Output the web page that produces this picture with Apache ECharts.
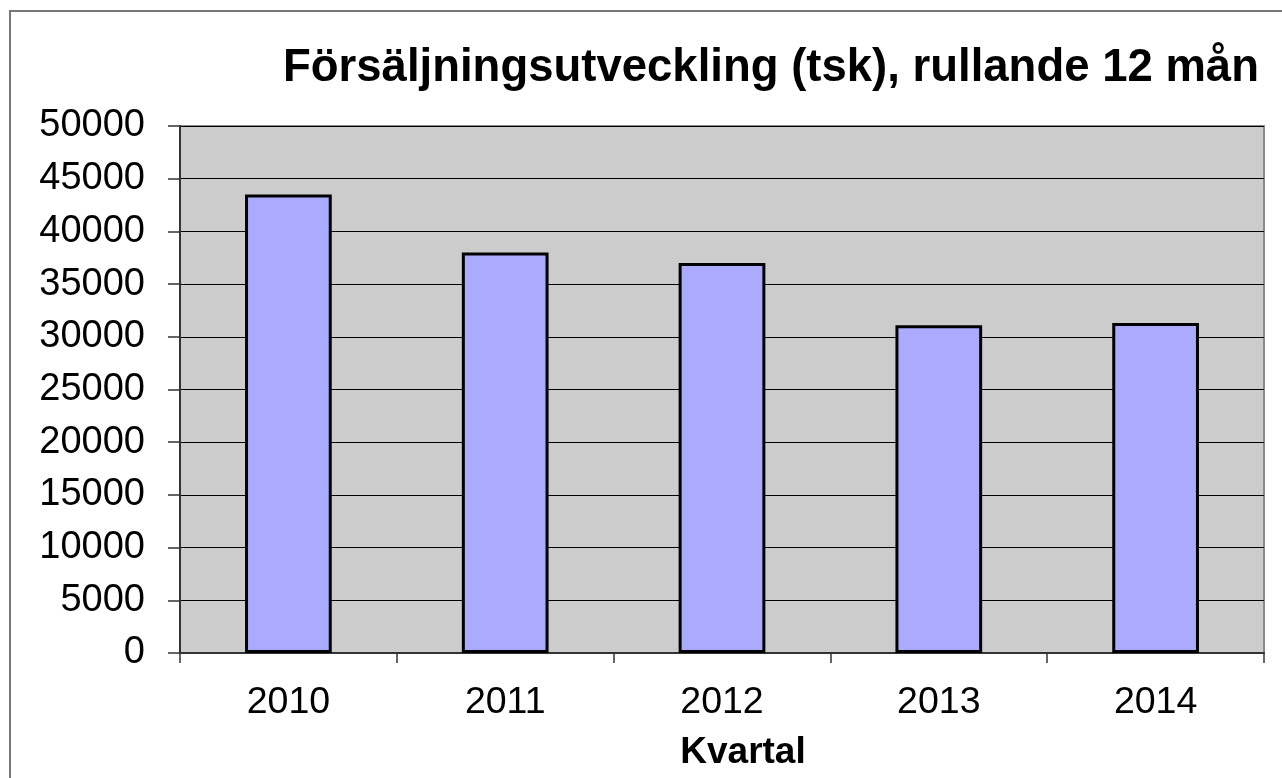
<!DOCTYPE html>
<html>
<head>
<meta charset="utf-8">
<script src="https://cdn.jsdelivr.net/npm/echarts@6/dist/echarts.min.js"></script>
<style>
  html, body { margin: 0; padding: 0; background: #fff; }
  #chart { width: 1282px; height: 778px; }
</style>
</head>
<body>
<div id="chart"></div>
<script>
const categories = ['2010', '2011', '2012', '2013', '2014'];
const sales = [43500, 38000, 37000, 31100, 31300];
const titleText = 'Försäljningsutveckling (tsk), rullande 12 mån';
const xAxisName = 'Kvartal';

const font = '"Liberation Sans", Arial, sans-serif';
const chart = echarts.init(document.getElementById('chart'));

chart.setOption({
  animation: false,
  backgroundColor: '#ffffff',
  title: {
    text: titleText,
    left: 283,
    top: 45,
    padding: 0,
    textStyle: {
      fontFamily: font,
      fontSize: 45.5,
      fontWeight: 'bold',
      color: '#000',
      lineHeight: 46,
    },
  },
  graphic: [
    {
      type: 'rect',
      shape: { x: 10, y: 11, width: 1300, height: 800 },
      style: { fill: 'none', stroke: '#777', lineWidth: 2 },
      silent: true,
    },
  ],
  grid: {
    left: 180,
    top: 126,
    right: 18,
    bottom: 125,
    show: true,
    backgroundColor: '#cccccc',
    borderColor: '#8a8a8a',
    borderWidth: 2,
  },
  xAxis: {
    type: 'category',
    data: categories,
    name: xAxisName,
    nameLocation: 'middle',
    nameGap: 81,
    nameTextStyle: {
      fontFamily: font,
      fontSize: 37,
      fontWeight: 'bold',
      color: '#000',
      padding: [0, 0, 0, 42],
    },
    axisLine: { lineStyle: { color: '#333', width: 2 } },
    axisTick: {
      show: true,
      alignWithLabel: false,
      length: 10,
      lineStyle: { color: '#333', width: 1.5 },
    },
    axisLabel: {
      fontFamily: font,
      fontSize: 37.5,
      color: '#000',
      margin: 31,
    },
  },
  yAxis: {
    type: 'value',
    min: 0,
    max: 50000,
    interval: 5000,
    axisLine: { show: true, lineStyle: { color: '#333', width: 2 } },
    axisTick: { show: true, length: 12, lineStyle: { color: '#333', width: 1.5 } },
    axisLabel: {
      fontFamily: font,
      fontSize: 38,
      color: '#000',
      margin: 35,
      formatter: (v) => String(v),
    },
    splitLine: { show: true, lineStyle: { color: '#000', width: 1 } },
  },
  series: [
    {
      type: 'bar',
      data: sales,
      barWidth: '40%',
      itemStyle: {
        color: '#aaaaff',
        borderColor: '#000',
        borderWidth: 3,
      },
    },
  ],
});
</script>
</body>
</html>
